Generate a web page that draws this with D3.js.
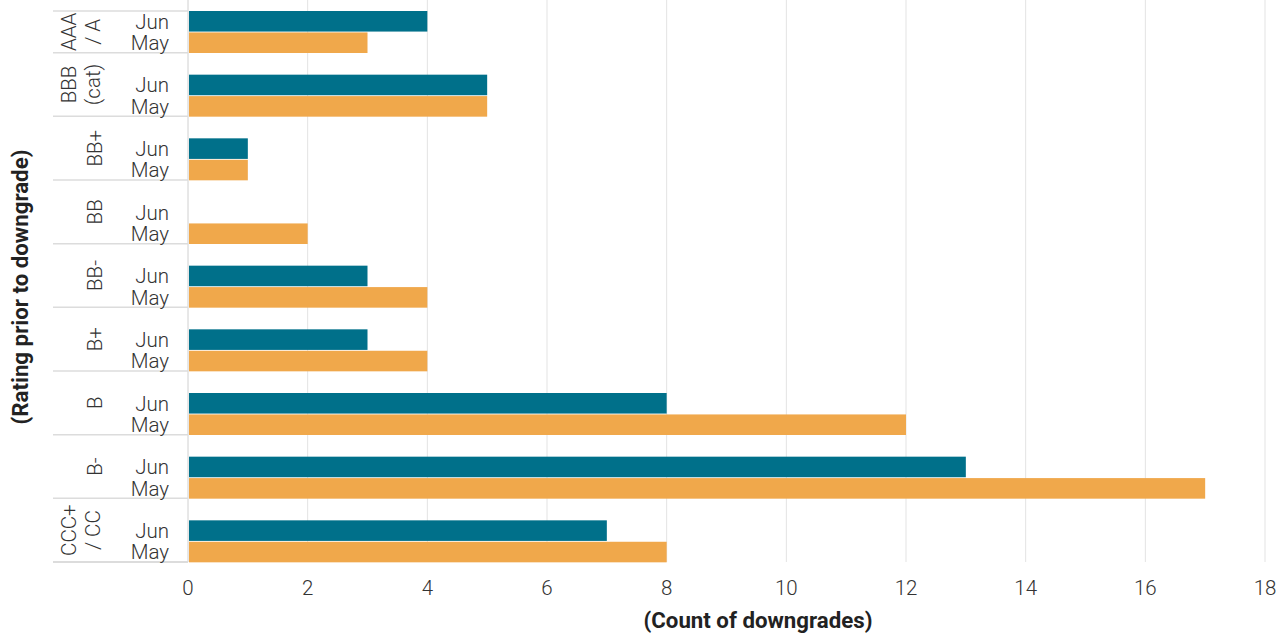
<!DOCTYPE html>
<html><head><meta charset="utf-8">
<script src="https://cdn.jsdelivr.net/npm/d3@7"></script>
<style>
body{margin:0;background:#fff;}
text{font-family:Roboto,"Noto Sans",sans-serif;}
</style></head>
<body><svg id="c" width="1280" height="633"></svg>
<script>
const categories = [["AAA","/ A"],["BBB","(cat)"],["BB+"],["BB"],["BB-"],["B+"],["B"],["B-"],["CCC+","/ CC"]];
const series = ["Jun","May"];
const junValues = [4,5,1,0,3,3,8,13,7];
const mayValues = [3,5,1,2,4,4,12,17,8];
const xTicks = [0,2,4,6,8,10,12,14,16,18];
const colors = {Jun:"#00708a", May:"#f0a84b"};

const svg = d3.select("#c");
const x = d3.scaleLinear().domain([0,18]).range([188,1265]);
const y = d3.scaleBand().domain(d3.range(categories.length)).range([-11,562]);
const inner = d3.scaleBand().domain(series).range([22,64]).paddingInner(0.04);
const labelSize = 20.5;

// gridlines
svg.selectAll("line.grid").data(xTicks).join("line")
  .attr("x1",d=>x(d)).attr("x2",d=>x(d)).attr("y1",0).attr("y2",562)
  .attr("stroke",d=>d===0?"#d0d0d0":"#e3e3e3").attr("stroke-width",1);

// separators in label area
const seps = d3.range(categories.length+1).map(i=> i===0 ? 11 : y(i-1)+y.bandwidth());
svg.selectAll("line.sep").data(seps).join("line")
  .attr("x1",53).attr("x2",188).attr("y1",d=>d).attr("y2",d=>d)
  .attr("stroke","#dcdcdc").attr("stroke-width",(d,i)=>i===seps.length-1?2:1.5);

// bars
const rows = categories.map((c,i)=>[{s:"Jun",v:junValues[i],i},{s:"May",v:mayValues[i],i}]).flat();
svg.selectAll("rect.bar").data(rows).join("rect")
  .attr("x",x(0)+1).attr("y",d=>y(d.i)+inner(d.s))
  .attr("width",d=>Math.max(0,x(d.v)-x(0)-1)).attr("height",inner.bandwidth())
  .attr("fill",d=>colors[d.s]);

// series labels
svg.selectAll("text.ser").data(rows).join("text")
  .attr("x",169).attr("y",d=>y(d.i)+inner(d.s)+inner.bandwidth()/2)
  .attr("dy","0.36em").attr("text-anchor","end")
  .attr("font-size",labelSize).attr("font-weight",300).attr("fill","#333")
  .text(d=>d.s);

// category labels (rotated)
categories.forEach((lines,i)=>{
  const top = Math.max(y(i), 11), bot = y(i)+y.bandwidth();
  const cy = (top+bot)/2;
  const n = lines.length;
  lines.forEach((t,j)=>{
    const cx = n===1 ? 95 : 69 + j*24;
    svg.append("text")
      .attr("transform",`translate(${cx},${cy}) rotate(-90)`)
      .attr("text-anchor","middle").attr("dy","0.36em")
      .attr("font-size",labelSize).attr("font-weight",300).attr("fill","#333")
      .text(t);
  });
});

// x axis tick labels
svg.selectAll("text.tick").data(xTicks).join("text")
  .attr("x",d=>x(d)).attr("y",595).attr("text-anchor","middle")
  .attr("font-size",labelSize).attr("font-weight",300).attr("fill","#333")
  .text(d=>d);

// axis titles
svg.append("text").attr("x",758).attr("y",628).attr("text-anchor","middle")
  .attr("font-size",22).attr("font-weight",700).attr("fill","#222")
  .attr("textLength",229).attr("lengthAdjust","spacingAndGlyphs")
  .text("(Count of downgrades)");
svg.append("text").attr("transform","translate(20,287) rotate(-90)")
  .attr("text-anchor","middle").attr("dy","0.36em")
  .attr("font-size",22).attr("font-weight",700).attr("fill","#222")
  .attr("textLength",275).attr("lengthAdjust","spacingAndGlyphs")
  .text("(Rating prior to downgrade)");
</script></body></html>
